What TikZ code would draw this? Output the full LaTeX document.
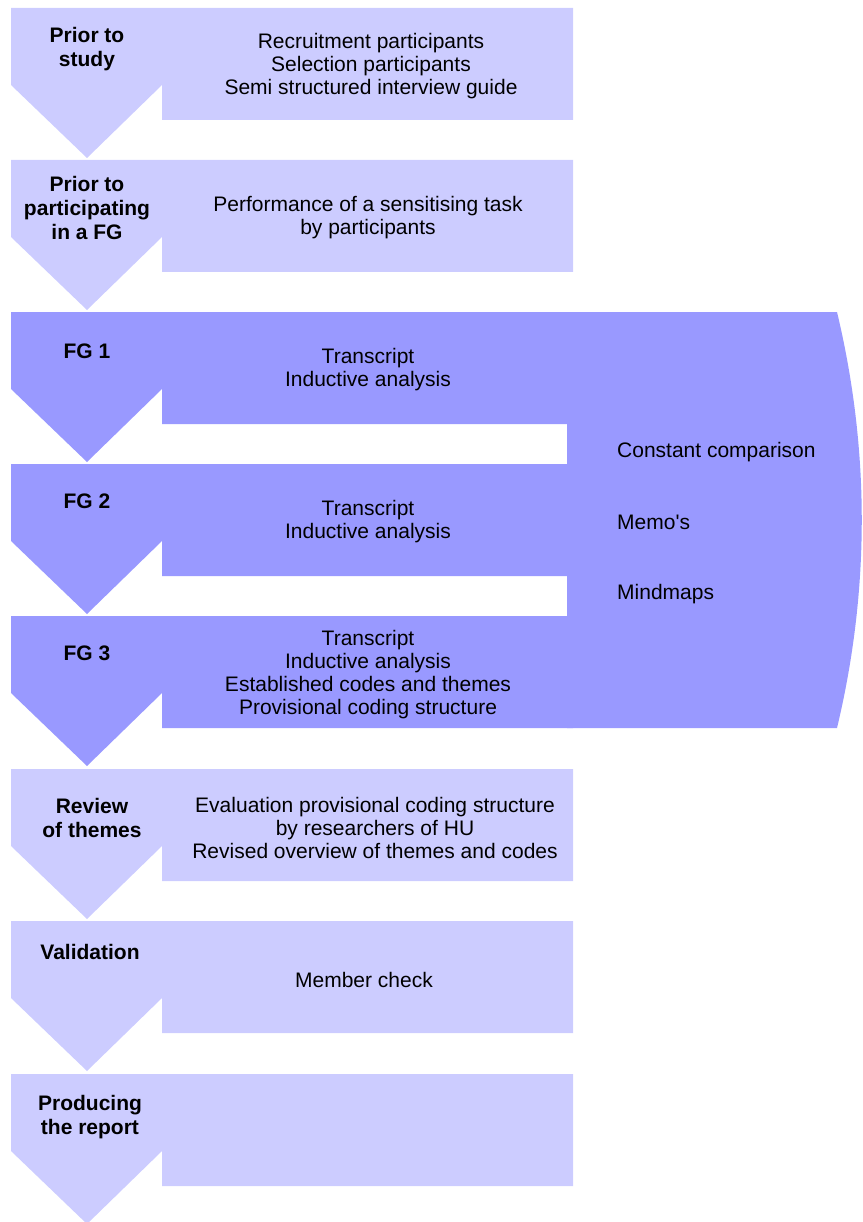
\documentclass[tikz,border=0pt]{standalone}
\usepackage{fontspec}
\setmainfont{Liberation Sans}
\definecolor{stagelight}{HTML}{CCCCFF}
\definecolor{stagedark}{HTML}{9999FF}

\begin{document}
\begin{tikzpicture}[x=1pt, y=-1pt, line join=round,
		font=\fontsize{21}{23}\selectfont,
		stagelabel/.style={font=\fontsize{21}{24}\selectfont\bfseries, align=center, inner sep=0pt},
		stagetext/.style={align=center, inner sep=0pt},
		sidetext/.style={anchor=west, inner sep=0pt}]
		
		\useasboundingbox (0,0) rectangle (862,1222);
		
		% ===== Stage arrows with their boxes =====
		\foreach \top/\col in {8/stagelight, 160/stagelight, 312/stagedark, 464/stagedark,
			616/stagedark, 769/stagelight, 921/stagelight, 1074/stagelight}
		{
			\fill[\col] (11,\top) -- (573,\top) -- (573,\top+112) -- (162,\top+112)
				-- (162,\top+77) -- (87,\top+150) -- (11,\top+77) -- cycle;
		}
		
		% ===== Focus group band on the right =====
		\fill[stagedark] (567,312) -- (837,312)
			.. controls (870,450) and (870,590) .. (837,728) -- (567,728) -- cycle;
		
		% ===== Stage labels =====
		\node[stagelabel] (prior)  at (87,49)   {Prior to\\study};
		\node[stagelabel] (partic) at (87,208)  {Prior to\\participating\\in a FG};
		\node[stagelabel] (fg1)    at (87,351)  {FG 1};
		\node[stagelabel] (fg2)    at (87,501)  {FG 2};
		\node[stagelabel] (fg3)    at (87,653)  {FG 3};
		\node[stagelabel] (review) at (92,818)  {Review\\of themes};
		\node[stagelabel] (valid)  at (90,952)  {Validation};
		\node[stagelabel] (report) at (90,1117) {Producing\\the report};
		
		% ===== Stage contents =====
		\node[stagetext] (prior-txt)  at (371,66)  {Recruitment participants\\Selection participants\\Semi structured interview guide};
		\node[stagetext] (partic-txt) at (368,218) {Performance of a sensitising task\\by participants};
		\node[stagetext] (fg1-txt)    at (368,370) {Transcript\\Inductive analysis};
		\node[stagetext] (fg2-txt)    at (368,522) {Transcript\\Inductive analysis};
		\node[stagetext] (fg3-txt)    at (368,675) {Transcript\\Inductive analysis\\Established codes and themes\\Provisional coding structure};
		\node[stagetext] (review-txt) at (375,828) {Evaluation provisional coding structure\\by researchers of HU\\Revised overview of themes and codes};
		\node[stagetext] (valid-txt)  at (364,980) {Member check};
		
		% ===== Across the focus groups =====
		\node[sidetext] (compare) at (617,452) {Constant comparison};
		\node[sidetext] (memos)   at (617,522) {Memo\textquotesingle s};
		\node[sidetext] (mindmap) at (617,594) {Mindmaps};
		
	\end{tikzpicture}
\end{document}
